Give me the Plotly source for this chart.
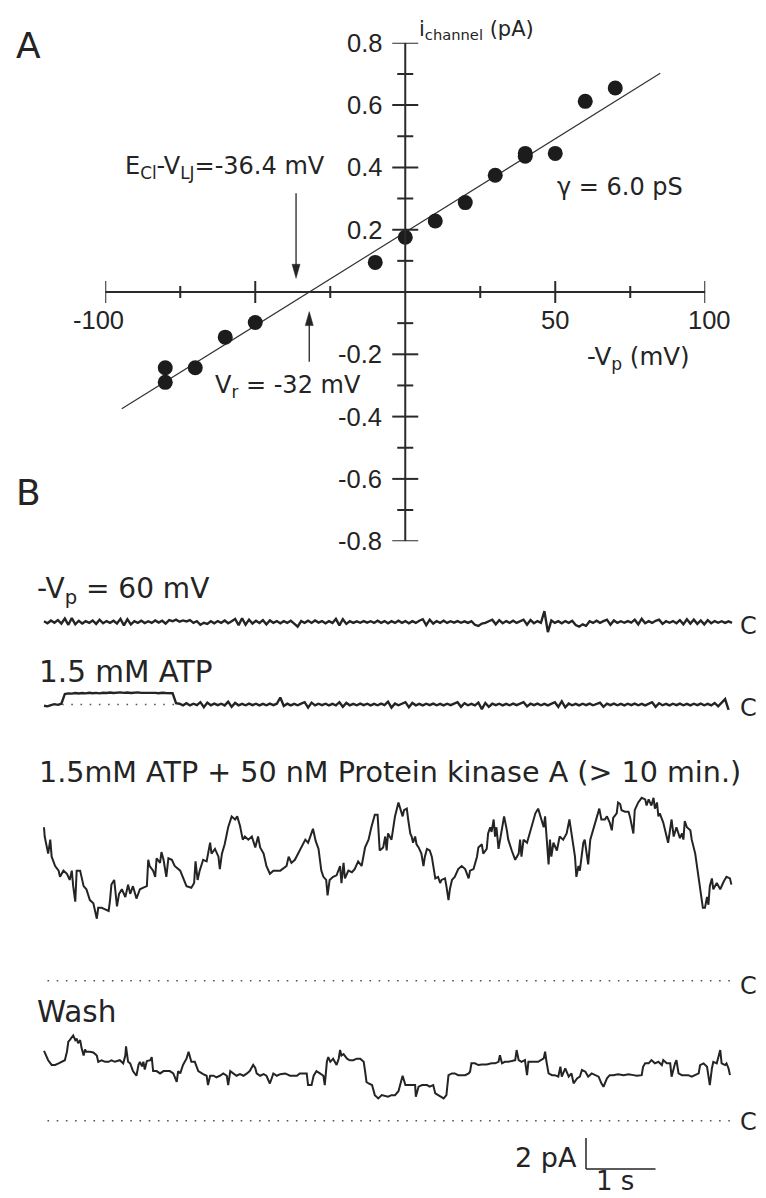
import numpy as np
import plotly.graph_objects as go

# page (window) size and the browser's default body margin
PAGE_W, PAGE_H = 766, 1198
OX, OY = 8, 8
W, H = PAGE_W - OX, PAGE_H - OY

# ---------------- Panel A: single-channel i-V relation ----------------
V_mV = [-80, -80, -70, -60, -50, -10, 0, 10, 20, 30, 40, 40, 50, 60, 70]
I_pA = [-0.243, -0.290, -0.243, -0.145, -0.098, 0.095, 0.176, 0.228, 0.287,
        0.375, 0.445, 0.436, 0.445, 0.612, 0.655]
GAMMA_pS = 6.0
VR_mV = -32.0
E_CL_VLJ_mV = -36.4
FIT_V_mV = [-94.5, 85.0]

X_MAJOR = [-100, -50, 50, 100]
X_MINOR = [-75, -25, 25, 75]
X_TICKLABEL_V = [-100, 50, 100]
X_TICKLABELS = ["-100", "50", "100"]
Y_MAJOR = [-0.8, -0.6, -0.4, -0.2, 0.2, 0.4, 0.6, 0.8]
Y_MINOR = [-0.7, -0.5, -0.3, -0.1, 0.1, 0.3, 0.5, 0.7]
Y_TICKLABELS = ["-0.8", "-0.6", "-0.4", "-0.2", "0.2", "0.4", "0.6", "0.8"]

# ---------------- Panel B: current records (pA above closed level) ----------------
SAMPLE_S = 0.05
trace1_pA = [
    0.05, -0.08, 0.10, -0.05, 0.12, -0.10, 0.22, -0.18, 0.25, -0.15,
    0.08, -0.10, 0.05, -0.06, 0.10, -0.12, 0.15, -0.08, 0.06, -0.05,
    0.08, -0.10, 0.20, -0.22, 0.18, -0.15, 0.06, -0.05, 0.08, -0.07,
    0.05, -0.06, 0.10, -0.04, 0.08, -0.10, 0.12, 0.05, 0.15, 0.02,
    0.10, 0.04, 0.12, -0.06, 0.05, -0.18, -0.05, -0.12, 0.05, -0.08,
    0.06, -0.05, 0.10, -0.08, 0.05, 0.20, -0.20, 0.24, -0.18, 0.15,
    -0.10, 0.08, -0.06, 0.12, -0.15, 0.10, -0.05, 0.06, -0.08, 0.05,
    -0.06, 0.08, -0.10, -0.30, 0.06, -0.05, 0.08, -0.06, 0.10, -0.04,
    0.06, -0.08, 0.05, -0.06, 0.20, -0.22, 0.18, -0.12, 0.05, -0.06,
    0.04, -0.05, 0.06, -0.04, 0.05, -0.06, 0.08, -0.05, 0.06, -0.08,
    0.05, -0.06, 0.08, -0.05, 0.06, -0.08, 0.05, -0.06, 0.08, 0.18,
    -0.20, 0.15, -0.10, 0.06, -0.05, 0.08, -0.06, 0.05, -0.04, 0.06,
    -0.05, 0.04, -0.06, 0.05, -0.18, -0.25, -0.10, -0.06, 0.05, 0.15,
    -0.15, 0.12, -0.08, 0.06, -0.05, 0.08, -0.06, 0.05, 0.15, -0.18,
    0.12, -0.08, 0.06, -0.05, 0.70, -0.65, 0.10, -0.06, 0.05, -0.08,
    0.06, -0.05, 0.08, -0.20, -0.30, -0.15, -0.25, 0.05, -0.06, 0.08,
    -0.05, 0.06, 0.15, -0.18, 0.10, -0.06, 0.05, -0.05, 0.06, -0.04,
    0.15, -0.15, 0.20, -0.08, 0.05, -0.06, 0.08, 0.15, -0.12, 0.05,
    -0.05, 0.06, -0.08, 0.12, -0.15, 0.18, -0.10, 0.15, -0.12, 0.10,
    -0.15, 0.12, -0.08, 0.06, -0.05, 0.05, -0.06, 0.04, -0.05,
]
trace2_pA = [
    -0.08, -0.12, -0.04, 0.02, -0.02, 0.05, 0.68, 0.72, 0.70, 0.74,
    0.71, 0.74, 0.72, 0.76, 0.73, 0.75, 0.72, 0.76, 0.74, 0.77,
    0.74, 0.76, 0.78, 0.75, 0.77, 0.74, 0.76, 0.78, 0.75, 0.76,
    0.74, 0.77, 0.75, 0.73, 0.76, 0.74, 0.75, 0.73, 0.08, 0.05,
    -0.05, 0.08, -0.06, 0.05, -0.04, 0.15, -0.18, 0.12, -0.05, 0.06,
    -0.04, 0.05, -0.06, 0.18, -0.15, 0.10, -0.05, 0.04, -0.05, 0.06,
    -0.04, 0.05, -0.06, 0.04, -0.05, 0.06, -0.04, 0.05, 0.45, -0.10,
    0.05, -0.06, 0.04, -0.05, 0.06, 0.15, -0.20, 0.12, -0.06, 0.05,
    -0.04, 0.05, -0.06, 0.04, -0.05, 0.15, -0.15, 0.10, -0.05, 0.04,
    -0.05, 0.06, -0.04, 0.05, -0.06, 0.04, -0.05, 0.06, -0.04, 0.18,
    -0.20, 0.06, -0.05, 0.04, 0.15, -0.18, 0.10, -0.05, 0.04, -0.06,
    0.05, -0.04, 0.06, -0.05, 0.04, -0.06, 0.05, -0.04, 0.06, 0.15,
    -0.15, 0.08, -0.05, 0.04, -0.06, 0.12, -0.30, 0.10, -0.15, 0.05,
    -0.04, 0.05, -0.06, 0.04, -0.05, 0.06, -0.04, 0.05, 0.15, -0.12,
    0.05, -0.04, 0.06, -0.05, 0.04, -0.06, 0.05, 0.15, -0.15, 0.20,
    -0.18, 0.06, -0.05, 0.04, -0.06, 0.05, -0.04, 0.06, -0.05, 0.04,
    0.12, -0.15, 0.05, -0.04, 0.06, -0.05, 0.04, -0.06, 0.05, -0.04,
    0.06, -0.05, 0.04, -0.06, 0.05, 0.15, -0.15, 0.08, -0.05, 0.04,
    -0.06, 0.05, -0.04, 0.06, -0.05, 0.04, -0.06, 0.05, -0.04, 0.06,
    -0.05, 0.04, -0.06, 0.10, -0.12, 0.15, 0.35, -0.35,
]
ATP_OPEN_S = [0.26, 1.88]   # dotted closed level under the ATP opening

t3_s = [0.00, 0.01, 0.06, 0.09, 0.11, 0.16, 0.21, 0.23, 0.28, 0.33, 0.37, 0.40, 0.42, 0.45, 0.47,
        0.52, 0.54, 0.57, 0.61, 0.66, 0.71, 0.73, 0.76, 0.78, 0.83, 0.88, 0.93, 0.95, 0.97, 1.01,
        1.04, 1.05, 1.08, 1.12, 1.17, 1.21, 1.24, 1.26, 1.28, 1.33, 1.38, 1.43, 1.48, 1.50, 1.52,
        1.57, 1.60, 1.62, 1.67, 1.69, 1.72, 1.76, 1.79, 1.84, 1.88, 1.96, 2.00, 2.05, 2.12, 2.16,
        2.18, 2.21, 2.24, 2.29, 2.34, 2.39, 2.41, 2.46, 2.51, 2.53, 2.56, 2.60, 2.65, 2.70, 2.75,
        2.78, 2.82, 2.86, 2.89, 2.94, 2.99, 3.04, 3.08, 3.11, 3.16, 3.20, 3.25, 3.30, 3.40, 3.49,
        3.52, 3.56, 3.61, 3.66, 3.71, 3.76, 3.80, 3.85, 3.87, 3.91, 3.95, 3.99, 4.02, 4.06, 4.08,
        4.11, 4.16, 4.21, 4.26, 4.28, 4.31, 4.33, 4.38, 4.43, 4.47, 4.52, 4.57, 4.62, 4.67, 4.71,
        4.76, 4.80, 4.83,
        4.88, 4.91, 4.93, 4.95, 5.00, 5.03, 5.05, 5.10, 5.13, 5.16, 5.18, 5.22, 5.24, 5.27, 5.29,
        5.31, 5.34, 5.36, 5.39, 5.43, 5.46, 5.48, 5.51, 5.55, 5.58, 5.60, 5.63, 5.67, 5.70, 5.72,
        5.77, 5.79, 5.82, 5.84, 5.87, 5.91, 5.96, 6.01, 6.06, 6.11, 6.13, 6.18, 6.23, 6.25, 6.30,
        6.32, 6.37, 6.39, 6.42, 6.44, 6.47, 6.49, 6.51, 6.54, 6.59, 6.62, 6.66, 6.68, 6.73, 6.78,
        6.83, 6.85, 6.87, 6.90, 6.95, 6.99, 7.02, 7.07, 7.11, 7.14, 7.19, 7.21, 7.23, 7.26, 7.28,
        7.30, 7.33, 7.38, 7.42, 7.47, 7.52, 7.56, 7.59, 7.62, 7.64, 7.66, 7.69, 7.71, 7.74, 7.76,
        7.78, 7.81, 7.83, 7.86, 7.90, 7.95, 7.99, 8.02, 8.07, 8.10, 8.14, 8.17, 8.19, 8.24, 8.26,
        8.29, 8.31, 8.36, 8.41, 8.43, 8.48, 8.50, 8.55, 8.60, 8.65, 8.67, 8.70, 8.74, 8.77, 8.79,
        8.82, 8.84, 8.86, 8.91, 8.96, 8.98, 9.03, 9.06, 9.10, 9.15, 9.18, 9.20, 9.22, 9.25, 9.30,
        9.32, 9.37, 9.42, 9.45, 9.48, 9.51, 9.54, 9.56, 9.58, 9.61, 9.63, 9.68, 9.73, 9.78, 9.82,
        9.87, 9.89]
i3_pA = [9.9, 9.3, 8.2, 9.1, 8.0, 7.4, 7.1, 6.7, 7.1, 6.9, 6.5, 7.1, 6.1, 5.1, 7.1,
         7.1, 6.7, 6.1, 5.9, 5.2, 5.0, 4.6, 4.0, 4.7, 4.7, 4.6, 4.5, 5.2, 6.2, 6.5,
         5.4, 4.8, 5.6, 5.9, 5.4, 6.2, 5.6, 5.9, 6.1, 5.3, 5.9, 6.0, 6.1, 7.8, 7.4,
         7.1, 6.7, 7.9, 7.6, 8.3, 7.8, 6.7, 7.9, 7.8, 7.4, 7.1, 6.7, 6.1, 6.0, 6.3,
         7.7, 6.5, 7.1, 7.8, 7.7, 8.9, 8.2, 8.5, 8.0, 7.2, 8.2, 8.8, 9.9, 10.6, 10.4,
         10.6, 10.0, 9.1, 9.3, 9.1, 9.3, 8.6, 9.3, 8.6, 8.2, 7.4, 6.9, 7.1, 7.1, 7.4,
         8.0, 7.6, 7.8, 8.2, 8.6, 9.1, 8.9, 9.5, 9.8, 9.0, 8.5, 7.1, 6.7, 6.5, 5.5,
         6.5, 6.7, 6.8, 7.4, 6.3, 7.6, 6.6, 7.1, 7.0, 7.2, 7.7, 7.4, 8.6, 9.1, 9.9,
         10.7, 10.7, 8.4,
         8.6, 9.3, 8.4, 9.5, 9.1, 9.9, 10.6, 11.5, 11.1, 10.6, 11.0, 11.1, 10.4, 9.5, 9.3,
         8.9, 9.3, 8.8, 8.6, 8.2, 7.4, 8.0, 8.5, 8.4, 8.0, 7.4, 6.6, 6.7, 6.3, 6.5,
         6.6, 6.1, 5.2, 5.9, 6.5, 6.7, 7.2, 7.4, 7.2, 6.6, 7.1, 7.2, 8.0, 8.6, 8.8,
         8.2, 8.5, 9.5, 9.9, 9.6, 10.4, 9.3, 9.9, 8.5, 9.9, 10.6, 9.7, 9.1, 8.4, 7.8,
         8.2, 9.1, 8.0, 9.1, 8.9, 9.5, 9.9, 10.8, 11.1, 10.7, 9.9, 10.6, 9.1, 7.5, 9.1,
         8.0, 8.9, 8.4, 9.3, 9.1, 9.5, 10.4, 9.5, 8.4, 8.0, 6.7, 7.4, 7.1, 8.0, 8.9,
         9.1, 8.0, 7.5, 9.1, 9.7, 10.6, 11.1, 10.4, 10.4, 10.6, 10.2, 9.7, 10.5, 10.8, 11.5,
         11.4, 11.0, 10.9, 10.9, 10.6, 9.5, 11.0, 11.5, 11.8, 11.7, 11.3, 11.7, 11.3, 11.8, 11.1,
         11.5, 10.6, 10.8, 10.2, 9.1, 8.9, 10.4, 9.3, 9.9, 9.2, 9.5, 9.1, 10.3, 9.9, 9.7,
         9.1, 8.2, 6.7, 5.9, 4.7, 4.7, 5.4, 4.9, 6.1, 6.6, 5.9, 6.3, 5.9, 6.4, 6.7,
         6.6, 6.2]

t4_s = [0.00, 0.04, 0.06, 0.11, 0.16, 0.21, 0.25, 0.30, 0.33, 0.35, 0.37, 0.42, 0.45, 0.47, 0.49,
        0.52, 0.54, 0.57, 0.59, 0.61, 0.66, 0.71, 0.76, 0.78, 0.83, 0.88, 0.93, 0.97, 1.02, 1.09,
        1.14, 1.17, 1.18, 1.20, 1.21, 1.24, 1.28, 1.33, 1.36, 1.38, 1.41, 1.43, 1.45, 1.48, 1.53,
        1.55, 1.57, 1.62, 1.67, 1.72, 1.76, 1.81, 1.86, 1.91, 1.93, 1.96, 2.00, 2.03, 2.05, 2.08,
        2.10, 2.12, 2.17, 2.22, 2.29, 2.34, 2.36, 2.39, 2.44, 2.48, 2.53, 2.58, 2.63, 2.65, 2.68,
        2.72, 2.77, 2.82, 2.87, 2.92, 2.96, 3.01, 3.04, 3.06, 3.11, 3.16, 3.20, 3.25, 3.30, 3.35,
        3.40, 3.47, 3.54, 3.59, 3.64, 3.68, 3.73, 3.78, 3.80, 3.85, 3.88, 3.92, 3.97, 4.02, 4.04,
        4.07, 4.09, 4.12, 4.16, 4.21, 4.24, 4.26, 4.28, 4.31, 4.36, 4.40, 4.45, 4.50, 4.55, 4.60,
        4.62, 4.64, 4.67, 4.72, 4.76, 4.81, 4.86, 4.91, 4.95, 5.00, 5.05, 5.10,
        5.12, 5.16, 5.20, 5.24, 5.29, 5.34, 5.35, 5.39, 5.44, 5.51, 5.55, 5.60, 5.63, 5.67, 5.75,
        5.79, 5.82, 5.87, 5.91, 5.96, 6.01, 6.06, 6.11, 6.13, 6.15, 6.20, 6.25, 6.30, 6.37, 6.44,
        6.49, 6.54, 6.56, 6.59, 6.63, 6.68, 6.73, 6.78, 6.80, 6.83, 6.87, 6.92, 6.95, 6.97, 7.02,
        7.07, 7.11, 7.19, 7.21, 7.23, 7.26, 7.31, 7.35, 7.40, 7.43, 7.45, 7.50, 7.55, 7.59, 7.62,
        7.67, 7.71, 7.74, 7.79, 7.83, 7.88, 7.93, 7.98, 8.02, 8.05, 8.10, 8.14, 8.19, 8.26, 8.34,
        8.41, 8.48, 8.53, 8.60, 8.62, 8.65, 8.70, 8.74, 8.79, 8.84, 8.89, 8.91, 8.96, 9.01, 9.03,
        9.08, 9.10, 9.13, 9.18, 9.22, 9.27, 9.32, 9.37, 9.42, 9.44, 9.49, 9.54, 9.56, 9.58, 9.61,
        9.63, 9.68, 9.70, 9.73, 9.75, 9.80, 9.82, 9.85, 9.87]
i4_pA = [4.5, 4.1, 3.9, 3.6, 3.6, 3.7, 3.8, 3.9, 4.45, 5.1, 5.2, 5.5, 5.2, 5.3, 5.0,
         5.2, 4.7, 4.2, 4.6, 4.45, 4.45, 4.4, 4.2, 3.8, 3.9, 3.8, 3.8, 3.9, 3.8, 3.9,
         3.7, 4.2, 4.8, 4.0, 3.8, 3.7, 3.2, 2.9, 3.6, 3.8, 3.5, 3.8, 3.3, 3.85, 3.9,
         4.1, 3.2, 3.2, 3.05, 3.2, 3.2, 3.2, 3.05, 2.5, 3.2, 3.05, 3.6, 3.8, 4.0, 4.45,
         4.1, 3.8, 3.8, 3.2, 3.0, 2.9, 2.3, 2.9, 2.9, 2.8, 2.9, 3.05, 2.9, 2.3, 3.2,
         3.05, 2.9, 3.0, 2.9, 3.05, 3.2, 3.6, 3.4, 3.05, 2.9, 3.0, 2.9, 2.4, 3.05, 2.9,
         3.0, 3.05, 2.9, 2.9, 2.9, 3.05, 3.05, 3.05, 2.3, 2.3, 2.9, 3.2, 3.05, 2.9, 2.3,
         3.8, 4.1, 3.8, 4.0, 3.6, 4.0, 4.56, 4.2, 4.3, 4.0, 3.9, 3.9, 4.0, 4.0, 3.8,
         3.2, 2.5, 2.4, 2.3, 1.65, 1.44, 1.65, 1.6, 1.55, 1.65, 1.65, 1.9,
         2.2, 2.9, 2.3, 2.3, 2.3, 2.3, 1.55, 2.2, 2.3, 2.3, 2.2, 2.3, 1.76, 1.65, 1.44,
         1.65, 2.94, 3.05, 3.05, 2.94, 2.94, 2.94, 3.05, 3.16, 3.70, 3.70, 3.59, 3.63, 3.63, 3.70,
         3.70, 3.80, 4.23, 3.70, 3.80, 3.80, 3.85, 3.91, 4.56, 3.91, 3.80, 3.91, 2.94, 3.80, 3.80,
         3.80, 3.80, 4.02, 4.45, 3.80, 3.05, 2.94, 2.94, 2.84, 3.48, 2.84, 3.37, 2.84, 3.05, 2.41,
         2.73, 2.84, 3.27, 3.16, 2.84, 3.05, 2.94, 2.84, 2.41, 2.19, 2.73, 2.94, 2.94, 2.99, 2.94,
         2.99, 2.94, 2.90, 2.94, 3.48, 3.70, 3.70, 3.91, 3.70, 3.80, 3.59, 3.91, 3.70, 3.70, 2.84,
         3.70, 3.91, 3.05, 2.94, 2.94, 2.94, 2.84, 2.94, 3.05, 3.59, 3.70, 3.48, 2.84, 2.30, 3.37,
         3.80, 3.70, 4.02, 4.56, 3.70, 3.59, 3.70, 3.37, 2.94]
RECORD_S = [0.05, 9.90]          # extent of dotted closed-level lines
SCALE_PA, SCALE_S = 2, 1

# ---------------- layout helpers (page pixels -> paper) ----------------
PX_PER_PA = 15.5
PX_PER_S = 69.5
T0_PX = 44.0


def px(x):
    return (x - OX) / W


def py(y):
    return 1 - (y - OY) / H


def lvl(ypix):               # stacking offset in pA for a baseline at page row ypix
    return (PAGE_H - ypix) / PX_PER_PA


def tsec(xpix):
    return (xpix - T0_PX) / PX_PER_S


BASE1, BASE2, BASE3, BASE4 = lvl(622), lvl(704.5), lvl(980.7), lvl(1120.7)

INK = "#242424"
AXC = "#2a2a2a"
FONT = "DejaVu Sans"
TICKFONT = "Liberation Sans, Arial, sans-serif"

fig = go.Figure()

# ----- Panel A
fit_i = [GAMMA_pS * (v - VR_mV) / 1000.0 for v in FIT_V_mV]
fig.add_trace(go.Scatter(x=FIT_V_mV, y=fit_i, mode="lines",
                         line=dict(color="#333333", width=1.2),
                         xaxis="x", yaxis="y", hoverinfo="skip"))
fig.add_trace(go.Scatter(x=V_mV, y=I_pA, mode="markers",
                         marker=dict(size=15, color="#1c1c1c", line=dict(width=0)),
                         xaxis="x", yaxis="y"))

# ----- Panel B
t1 = [round(k * SAMPLE_S, 3) for k in range(len(trace1_pA))]
t2 = [round(k * SAMPLE_S, 3) for k in range(len(trace2_pA))]
noise_line = dict(color=INK, width=2.4)
fig.add_trace(go.Scatter(x=t1, y=[BASE1 + v for v in trace1_pA], mode="lines",
                         line=noise_line, xaxis="x2", yaxis="y2"))
fig.add_trace(go.Scatter(x=t2, y=[BASE2 + v for v in trace2_pA], mode="lines",
                         line=noise_line, xaxis="x2", yaxis="y2"))
fig.add_trace(go.Scatter(x=t3_s, y=[BASE3 + v for v in i3_pA], mode="lines",
                         line=dict(color=INK, width=2.0), xaxis="x2", yaxis="y2"))
fig.add_trace(go.Scatter(x=t4_s, y=[BASE4 + v for v in i4_pA], mode="lines",
                         line=dict(color=INK, width=2.0), xaxis="x2", yaxis="y2"))

dot = dict(color="#555555", width=1.6, dash="1.6px,7.6px")
for base, span in [(BASE3, RECORD_S), (BASE4, RECORD_S), (BASE2, ATP_OPEN_S)]:
    fig.add_trace(go.Scatter(x=span, y=[base, base], mode="lines", line=dot,
                             xaxis="x2", yaxis="y2"))

shapes = []
# crossing axes of panel A
shapes.append(dict(type="line", xref="x", yref="y", x0=-100, x1=100, y0=0, y1=0,
                   line=dict(color=AXC, width=2)))
shapes.append(dict(type="line", xref="x", yref="y", x0=0, x1=0, y0=-0.8, y1=0.8,
                   line=dict(color=AXC, width=2)))
for v in X_MAJOR:
    shapes.append(dict(type="line", xref="x", yref="y", x0=v, x1=v,
                       ysizemode="pixel", yanchor=0, y0=-11, y1=11,
                       line=dict(color=AXC, width=2)))
for v in X_MINOR:
    shapes.append(dict(type="line", xref="x", yref="y", x0=v, x1=v,
                       ysizemode="pixel", yanchor=0, y0=-6, y1=6,
                       line=dict(color=AXC, width=2)))
for v in Y_MAJOR:
    shapes.append(dict(type="line", xref="x", yref="y", y0=v, y1=v,
                       xsizemode="pixel", xanchor=0, x0=-13, x1=13,
                       line=dict(color=AXC, width=2)))
for v in Y_MINOR:
    shapes.append(dict(type="line", xref="x", yref="y", y0=v, y1=v,
                       xsizemode="pixel", xanchor=0, x0=-8, x1=8,
                       line=dict(color=AXC, width=2)))

# arrows
E_TAIL, E_TIP = 0.317, 0.044
R_TAIL, R_TIP = -0.224, -0.063
shapes.append(dict(type="line", xref="x", yref="y", x0=E_CL_VLJ_mV, x1=E_CL_VLJ_mV,
                   y0=E_TAIL, y1=E_TIP + 0.03, line=dict(color=INK, width=1.3)))
shapes.append(dict(type="path", xref="x", yref="y", xsizemode="pixel", ysizemode="pixel",
                   xanchor=E_CL_VLJ_mV, yanchor=E_TIP, path="M0,0 L-4,14 L4,14 Z",
                   fillcolor=INK, line=dict(color=INK, width=0.5)))
shapes.append(dict(type="line", xref="x", yref="y", x0=VR_mV, x1=VR_mV,
                   y0=R_TAIL, y1=R_TIP - 0.03, line=dict(color=INK, width=1.3)))
shapes.append(dict(type="path", xref="x", yref="y", xsizemode="pixel", ysizemode="pixel",
                   xanchor=VR_mV, yanchor=R_TIP, path="M0,0 L-4,-14 L4,-14 Z",
                   fillcolor=INK, line=dict(color=INK, width=0.5)))

# scale bar
SB_T = tsec(586)
SB_Y = lvl(1169)
shapes.append(dict(type="line", xref="x2", yref="y2", x0=SB_T, x1=SB_T,
                   y0=SB_Y, y1=SB_Y + SCALE_PA, line=dict(color=INK, width=1.5)))
shapes.append(dict(type="line", xref="x2", yref="y2", x0=SB_T, x1=SB_T + SCALE_S,
                   y0=SB_Y, y1=SB_Y, line=dict(color=INK, width=1.5)))

ann = []


def label(text, x, y, size, xanchor="left", xref="paper", yref="paper", family=FONT,
          yanchor="middle", **kw):
    ann.append(dict(text=text, x=x, y=y, xref=xref, yref=yref, xanchor=xanchor,
                    yanchor=yanchor, showarrow=False,
                    font=dict(family=family, size=size, color=INK), **kw))


label("A", px(28.5), py(45), 36, "center")
label("B", px(28.5), py(492), 36, "center")
label("i<sub>channel</sub> (pA)", px(417), py(30), 21)
for v, s in zip(Y_MAJOR, Y_TICKLABELS):
    label(s, px(383.5), v, 25.5, "right", yref="y", family=TICKFONT)
for v, s in zip(X_TICKLABEL_V, X_TICKLABELS):
    shift = -7 if v == -100 else (4 if v == 100 else 0)
    label(s, v, py(320), 25.5, "center", xref="x", xshift=shift, family=TICKFONT)
label("-V<sub>p</sub> (mV)", px(585), py(357.5), 24.5)
label("E<sub>Cl</sub>-V<sub>LJ</sub>=-36.4 mV", px(122.5), py(167.5), 24)
label("γ = 6.0 pS", px(554.5), py(187), 24)
label("V<sub>r</sub> = -32 mV", px(212.5), py(386), 24)

label("-V<sub>p</sub> = 60 mV", px(34.5), py(590), 28)
label("1.5 mM ATP", px(36.5), py(671.5), 29.5)
label("1.5mM ATP + 50 nM Protein kinase A (&gt; 10 min.)", px(36.5), py(771.7), 28.6)
label("Wash", px(34.5), py(1011.7), 29.5)
for yc in [626, 708, 986, 1122]:
    label("C", px(748.5), py(yc), 24, "center")
label("2 pA", px(579), py(1157.5), 27, "right")
label("1 s", px(615), py(1197.5), 26, "center", yanchor="bottom")

fig.update_layout(
    width=W, height=H, margin=dict(l=0, r=0, t=0, b=0),
    paper_bgcolor="white", plot_bgcolor="rgba(0,0,0,0)", showlegend=False,
    font=dict(family=FONT, color=INK),
    xaxis=dict(domain=[px(105.25), px(705.25)], range=[-100, 100], visible=False,
               anchor="y", fixedrange=True),
    yaxis=dict(domain=[py(541.2), py(42.8)], range=[-0.8, 0.8], visible=False,
               anchor="x", fixedrange=True),
    xaxis2=dict(domain=[0, 1], range=[tsec(OX), tsec(OX + W)],
                visible=False, anchor="y2", fixedrange=True),
    yaxis2=dict(domain=[0, 1], range=[lvl(OY + H), lvl(OY)], visible=False,
                anchor="x2", fixedrange=True),
    shapes=shapes, annotations=ann,
)

fig.write_html("out.html")
